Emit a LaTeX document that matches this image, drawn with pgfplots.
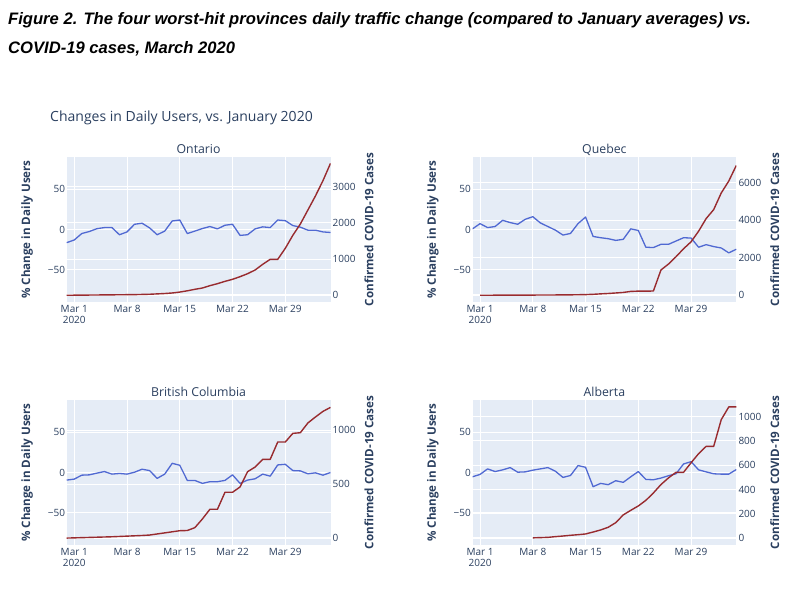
\documentclass[border=0pt]{standalone}
\usepackage{fontspec}
\setmainfont{Open Sans}
\newfontfamily\capfont{Liberation Sans}
\usepackage{pgfplots}
\usepackage{pgfplotstable}
\pgfplotsset{compat=1.18}
\definecolor{plotbg}{HTML}{E5ECF6}
\definecolor{txt}{HTML}{2A3F5F}
\definecolor{users}{HTML}{5069D2}
\definecolor{cases}{HTML}{982B2F}

% d = days since Mar 1, u = % change in daily users, c = confirmed cases
\pgfplotstableread{
d u c
-1 -16.3 2
0 -13 4
1 -5 6
2 -2.5 8
3 1 10
4 2.4 12
5 2.4 14
6 -6.5 16
7 -3 18
8 6.5 20
9 7.8 25
10 2 30
11 -6.5 40
12 -2 50
13 10.6 65
14 11.8 90
15 -5 125
16 -2 166
17 1.2 202
18 3.7 267
19 0.8 322
20 5.3 386
21 6.5 442
22 -7.3 515
23 -6.5 598
24 0.8 699
25 3.3 855
26 2.4 994
27 11.8 994
28 11 1297
29 4.9 1656
30 2.9 1969
31 -0.8 2355
32 -0.8 2742
33 -3 3165
34 -3.7 3643
}\ontario

\pgfplotstableread{
d u c
-1 0.8 nan
0 7.3 2
1 2.4 2
2 3.7 3
3 11.4 4
4 8.6 5
5 6.5 6
6 12.7 8
7 15.9 10
8 8.2 12
9 3.7 14
10 -0.8 16
11 -6.9 18
12 -4.9 22
13 7.3 28
14 15.5 35
15 -8.6 50
16 -10.2 74
17 -11.4 94
18 -13.5 121
19 -12.2 150
20 0.8 205
21 -1.2 220
22 -22 222
23 -22.4 225
24 -18.4 1345
25 -18.4 1664
26 -14.3 2053
27 -10.2 2478
28 -10.6 2850
29 -22 3416
30 -18.8 4088
31 -21.2 4566
32 -22.9 5451
33 -29 6088
34 -24.5 6920
}\quebec

\pgfplotstableread{
d u c
-1 -9.4 2
0 -8.2 4
1 -3.3 6
2 -2.9 8
3 -0.8 10
4 1.2 12
5 -2 14
6 -1.2 17
7 -2 20
8 0.4 23
9 4.1 26
10 2.4 30
11 -7.3 40
12 -2 50
13 11.4 60
14 9 70
15 -9.8 72
16 -9.8 98
17 -13.5 178
18 -11.4 268
19 -11.4 268
20 -9.8 425
21 -2.9 425
22 -13.5 474
23 -9.4 615
24 -7.8 658
25 -2 729
26 -4.5 729
27 9.4 889
28 10.2 889
29 2.4 969
30 2 975
31 -1.6 1065
32 -0.4 1120
33 -3.3 1172
34 0 1209
}\bc

\pgfplotstableread{
d u c
-1 -5.3 nan
0 -2.4 nan
1 4.5 nan
2 1.2 nan
3 3.3 nan
4 6.1 nan
5 0.4 nan
6 0.8 nan
7 2.9 1
8 4.5 3
9 6.1 5
10 1.6 11
11 -6.1 16
12 -3.7 22
13 8.6 27
14 6.5 33
15 -17.6 49
16 -13.5 66
17 -15.1 88
18 -10.2 126
19 -12.2 190
20 -5.3 228
21 1.2 264
22 -8.6 310
23 -9 371
24 -6.9 440
25 -4 495
26 -1.6 541
27 10.6 541
28 13.5 620
29 3.3 695
30 0.8 755
31 -1.6 755
32 -2 975
33 -2 1080
34 3.7 1080
}\alberta

\pgfplotsset{
  set layers,
  base/.style={
    scale only axis, width=263.8pt, height=145pt,
    xmin=-1, xmax=34,
    axis line style={draw=none}, major tick length=0pt,
    tick label style={font=\fontsize{10}{11}\selectfont, text=txt},
    grid style={white, line width=0.9pt},
    unbounded coords=jump,
    every axis title/.style={at={(axis description cs:0.5,1)}, anchor=base,
      yshift=3.5pt, font=\fontsize{12.3}{14}\selectfont, text=txt},
  },
  ltax/.style={base, ymin=-90, ymax=90,
    axis background/.style={fill=plotbg},
    xmajorgrids, ymajorgrids,
    xtick={0,7,14,21,28},
    xticklabels={{Mar 1\\2020},Mar 8,Mar 15,Mar 22,Mar 29},
    xticklabel style={align=center, anchor=north, inner sep=0pt, yshift=-3.5pt},
    ytick={-50,0,50}, yticklabels={−50,0,50},
    yticklabel style={anchor=east, inner sep=0pt, xshift=-1.5pt},
    extra y ticks={0}, extra y tick labels={},
    extra y tick style={major grid style={white, line width=1.8pt}},
    ylabel={\% Change in Daily Users},
    every axis y label/.style={at={(axis description cs:-0.150,0.5)}, rotate=90,
      anchor=center, font=\bfseries\fontsize{11.6}{13}\selectfont, text=txt},
  },
  rtax/.style={base, xtick=\empty, ymajorgrids,
    yticklabel pos=right,
    yticklabel style={anchor=west, inner sep=0pt, xshift=2pt},
    extra y ticks={0}, extra y tick labels={},
    extra y tick style={major grid style={white, line width=1.8pt}},
    ylabel={Confirmed COVID-19 Cases},
    every axis y label/.style={at={(axis description cs:1.146,0.5)}, rotate=90,
      anchor=center, font=\bfseries\fontsize{11.6}{13}\selectfont, text=txt},
  },
  uline/.style={users, line width=1.3pt, line join=round},
  cline/.style={cases, line width=1.4pt, line join=round},
}

\begin{document}
\begin{tikzpicture}
\path (0,0) rectangle (800pt,-605pt);

\node[anchor=base west, inner sep=0pt, text=black,
  font=\capfont\bfseries\itshape\fontsize{16.6}{20}\selectfont] at (8pt,-24pt)
  {Figure 2. The four worst-hit provinces daily traffic change (compared to January averages) vs.};
\node[anchor=base west, inner sep=0pt, text=black,
  font=\capfont\bfseries\itshape\fontsize{16.6}{20}\selectfont] at (8pt,-53pt)
  {COVID-19 cases, March 2020};
\node[anchor=base west, inner sep=0pt, text=txt,
  font=\fontsize{14}{16}\selectfont] at (50pt,-121pt)
  {Changes in Daily Users, vs. January 2020};

% Ontario
\begin{axis}[ltax, at={(66.7pt,-302pt)}, anchor=south west, title={Ontario}]
\addplot[uline] table[x=d, y=u] {\ontario};
\end{axis}
\begin{axis}[rtax, at={(66.7pt,-302pt)}, anchor=south west,
  ymin=-184, ymax=3818, ytick={0,1000,2000,3000}, yticklabels={0,1000,2000,3000}]
\addplot[cline] table[x=d, y=c] {\ontario};
\end{axis}

% Quebec
\begin{axis}[ltax, at={(472.5pt,-302pt)}, anchor=south west, title={Quebec}]
\addplot[uline] table[x=d, y=u] {\quebec};
\end{axis}
\begin{axis}[rtax, at={(472.5pt,-302pt)}, anchor=south west,
  ymin=-360, ymax=7370, ytick={0,2000,4000,6000}, yticklabels={0,2000,4000,6000}]
\addplot[cline] table[x=d, y=c] {\quebec};
\end{axis}

% British Columbia
\begin{axis}[ltax, at={(66.7pt,-545pt)}, anchor=south west, title={British Columbia}]
\addplot[uline] table[x=d, y=u] {\bc};
\end{axis}
\begin{axis}[rtax, at={(66.7pt,-545pt)}, anchor=south west,
  ymin=-62, ymax=1277, ytick={0,500,1000}, yticklabels={0,500,1000}]
\addplot[cline] table[x=d, y=c] {\bc};
\end{axis}

% Alberta
\begin{axis}[ltax, at={(472.5pt,-545pt)}, anchor=south west, title={Alberta}]
\addplot[uline] table[x=d, y=u] {\alberta};
\end{axis}
\begin{axis}[rtax, at={(472.5pt,-545pt)}, anchor=south west,
  ymin=-58, ymax=1137, ytick={0,200,400,600,800,1000},
  yticklabels={0,200,400,600,800,1000}]
\addplot[cline] table[x=d, y=c] {\alberta};
\end{axis}
\end{tikzpicture}
\end{document}
